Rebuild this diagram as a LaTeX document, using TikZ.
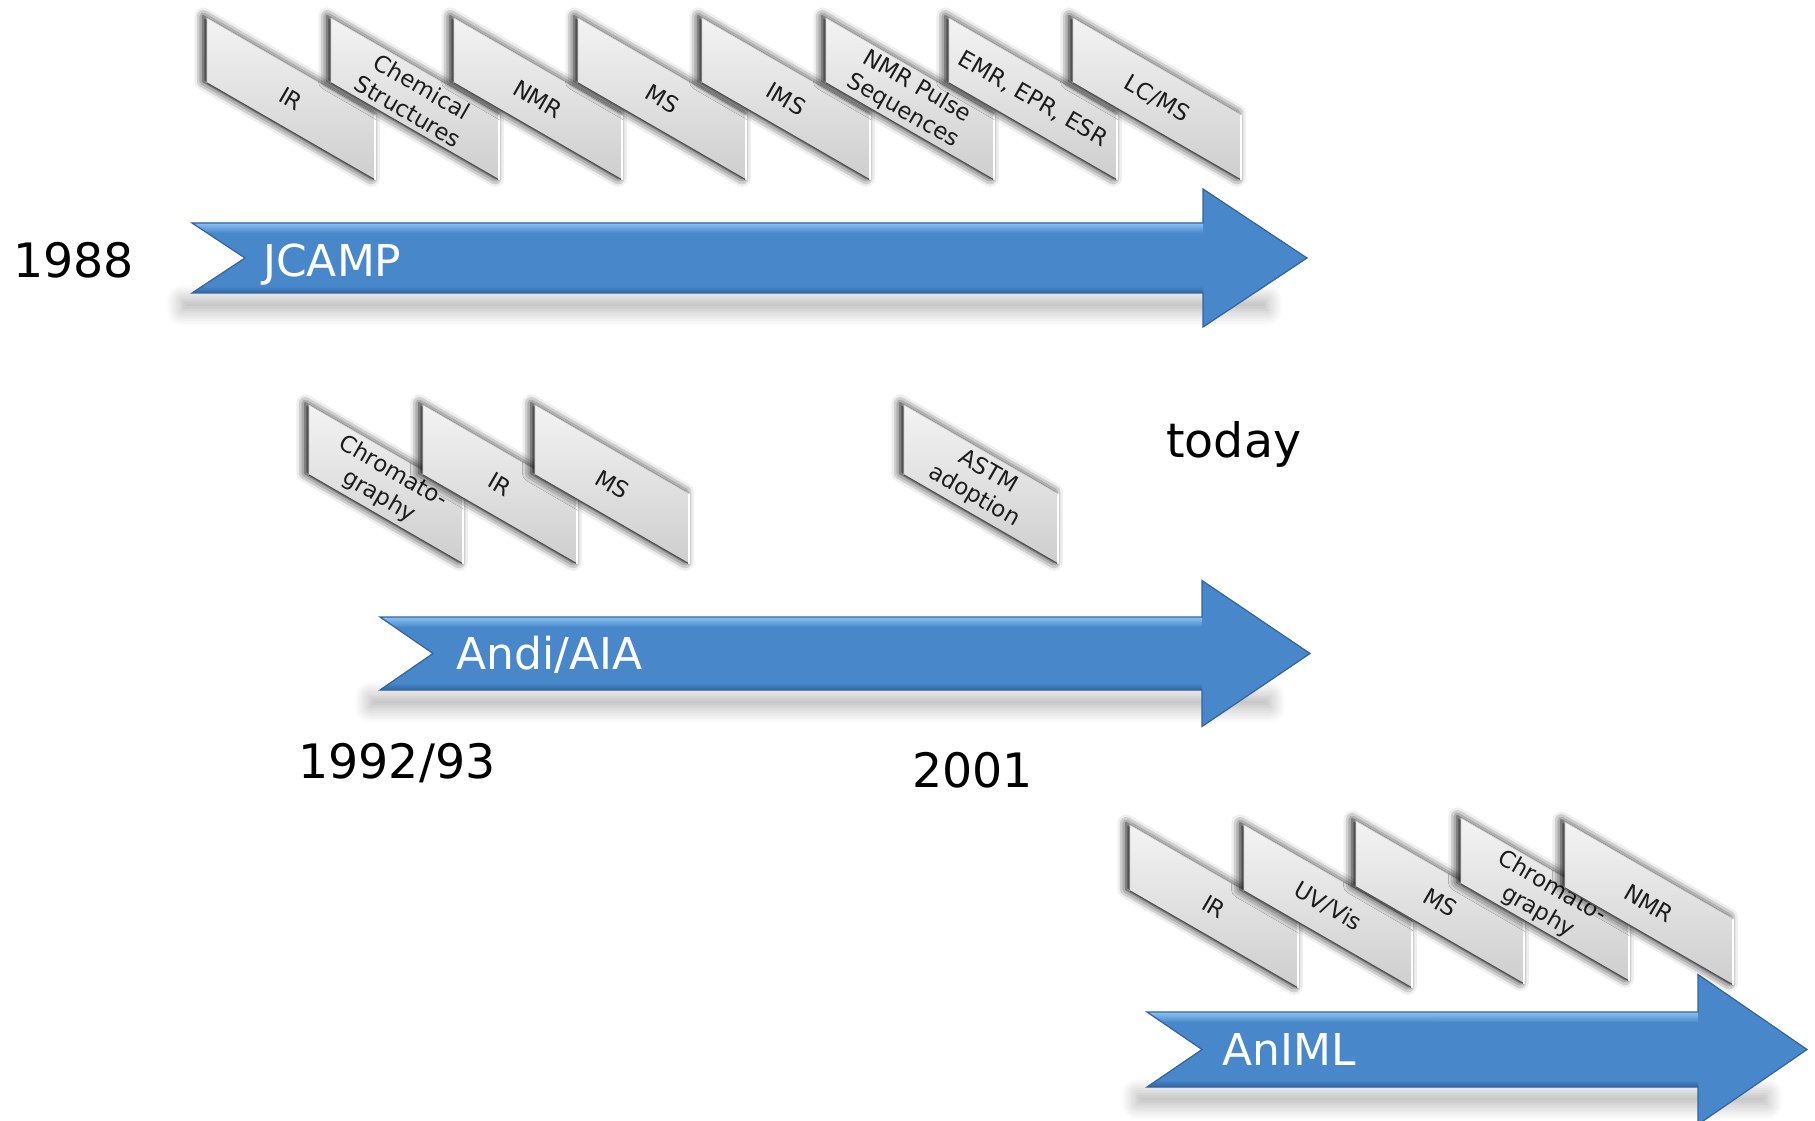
\documentclass[tikz,border=0pt]{standalone}
\usepackage{fontspec}
\setmainfont{DejaVu Sans}
\usepackage{tikz}
\usetikzlibrary{calc, shadows.blur}

\definecolor{cardhi}{RGB}{243,243,243}
\definecolor{cardlo}{RGB}{206,206,206}
\definecolor{cardink}{RGB}{28,28,28}
\definecolor{tlmid}{RGB}{72,136,202}
\definecolor{tllight}{RGB}{138,194,242}
\definecolor{tldark}{RGB}{52,100,160}

\tikzset{card/.style={top color=cardhi, bottom color=cardlo, draw=gray!40, line width=0.4pt,
	blur shadow={shadow xshift=-2.2pt, shadow yshift=1pt, shadow blur radius=5pt, shadow opacity=100}}}
\tikzset{cardtxt/.style={rotate=-30, align=center, inner sep=0pt, text=cardink,
	font=\fontsize{13}{16}\selectfont}}
\tikzset{yr/.style={anchor=base west, inner sep=0pt, font=\fontsize{27}{32}\selectfont}}
\tikzset{tltxt/.style={anchor=base west, inner sep=0pt, text=white, font=\fontsize{25}{30}\selectfont}}
\tikzset{tlshadow/.style={blur shadow={shadow xshift=0pt, shadow yshift=0pt, shadow blur radius=9pt,
	shadow blur steps=10, shadow opacity=32}}}

% card: name, left x, top y, width, height, text
\newcommand\card[6]{%
	\path[card] (#2,#3) -- ++(#4,0.577*#4) -- ++(0,#5) -- ++(-#4,-0.577*#4) -- cycle;
	\draw[gray!65!black, line width=0.7pt] (#2,#3+#5) -- ++(#4,0.577*#4);
	\draw[white, line width=1pt] (#2+#4,#3+0.577*#4) -- ++(0,#5);
	\node[cardtxt] (#1) at (#2+0.5*#4, #3+0.2885*#4+0.5*#5) {#6};}

% timeline arrow: name, tail, notch, top, bottom, head base, head half height, tip
\newcommand\tlarrow[8]{%
	\path[tlshadow] (#2-10,#5+7) rectangle (#8-40,#5+17);
	\coordinate (#1-a) at (#2,#4);
	\coordinate (#1-b) at (#6,#4);
	\coordinate (#1-c) at (#6,{(#4+#5)/2-#7});
	\coordinate (#1-d) at (#8,{(#4+#5)/2});
	\coordinate (#1-e) at (#6,{(#4+#5)/2+#7});
	\coordinate (#1-f) at (#6,#5);
	\coordinate (#1-g) at (#2,#5);
	\coordinate (#1-h) at (#3,{(#4+#5)/2});
	\fill[tlmid] (#1-a) -- (#1-b) -- (#1-c) -- (#1-d) -- (#1-e) -- (#1-f) -- (#1-g) -- (#1-h) -- cycle;
	\shade[top color=tllight, bottom color=tlmid] (#1-a) -- (#1-b) -- ($(#1-b)+(0,10)$)
		-- ($(#1-a)!0.28!(#1-h)$) -- cycle;
	\shade[top color=tlmid, bottom color=tldark] ($(#1-g)!0.2!(#1-h)$) -- ($(#1-f)+(0,-7)$)
		-- (#1-f) -- (#1-g) -- cycle;
	\draw[tldark, line width=0.7pt, line join=miter] (#1-a) -- (#1-b) -- (#1-c) -- (#1-d)
		-- (#1-e) -- (#1-f) -- (#1-g) -- (#1-h) -- cycle;}

\begin{document}
\begin{tikzpicture}[x=0.02cm, y=-0.02cm]
	\useasboundingbox (0,0) rectangle (1815,1121);

	% JCAMP
	\tlarrow{jc}{192}{245}{223}{293}{1203}{69}{1307}
	\node[tltxt] (jcamp) at (263,277) {JCAMP};
	\node[yr] (y1988) at (13,278) {1988};

	% Andi/AIA
	\tlarrow{an}{380}{433}{617}{690}{1202}{73}{1310}
	\node[tltxt] (andi) at (456,669) {Andi/AIA};
	\node[yr] (y1992) at (298,778) {1992/93};
	\node[yr] (y2001) at (912,787) {2001};
	\node[yr] (today) at (1166,458) {today};

	% AnIML
	\tlarrow{ml}{1147}{1202}{1012}{1087}{1698}{75}{1807}
	\node[tltxt] (animl) at (1222,1065) {AnIML};

	% cards, JCAMP
	\card{jc1}{207}{18}{168}{65}{IR}
	\card{jc2}{331}{18}{168}{65}{Chemical\\Structures}
	\card{jc3}{454}{18}{168}{65}{NMR}
	\card{jc4}{578}{18}{168}{65}{MS}
	\card{jc5}{702}{18}{168}{65}{IMS}
	\card{jc6}{826}{18}{168}{65}{NMR Pulse\\Sequences}
	\card{jc7}{949}{18}{168}{65}{EMR, EPR, ESR}
	\card{jc8}{1073}{18}{168}{65}{LC/MS}

	% cards, Andi/AIA
	\card{an1}{309}{405}{154}{70}{Chromato-\\graphy}
	\card{an2}{423}{405}{154}{70}{IR}
	\card{an3}{535}{405}{154}{70}{MS}
	\card{an4}{904}{405}{154}{70}{ASTM\\adoption}

	% cards, AnIML
	\card{ml1}{1130}{825}{168}{66}{IR}
	\card{ml2}{1244}{825}{168}{66}{UV/Vis}
	\card{ml3}{1356}{821}{168}{66}{MS}
	\card{ml4}{1461}{818}{168}{66}{Chromato-\\graphy}
	\card{ml5}{1565}{822}{168}{66}{NMR}
\end{tikzpicture}
\end{document}
